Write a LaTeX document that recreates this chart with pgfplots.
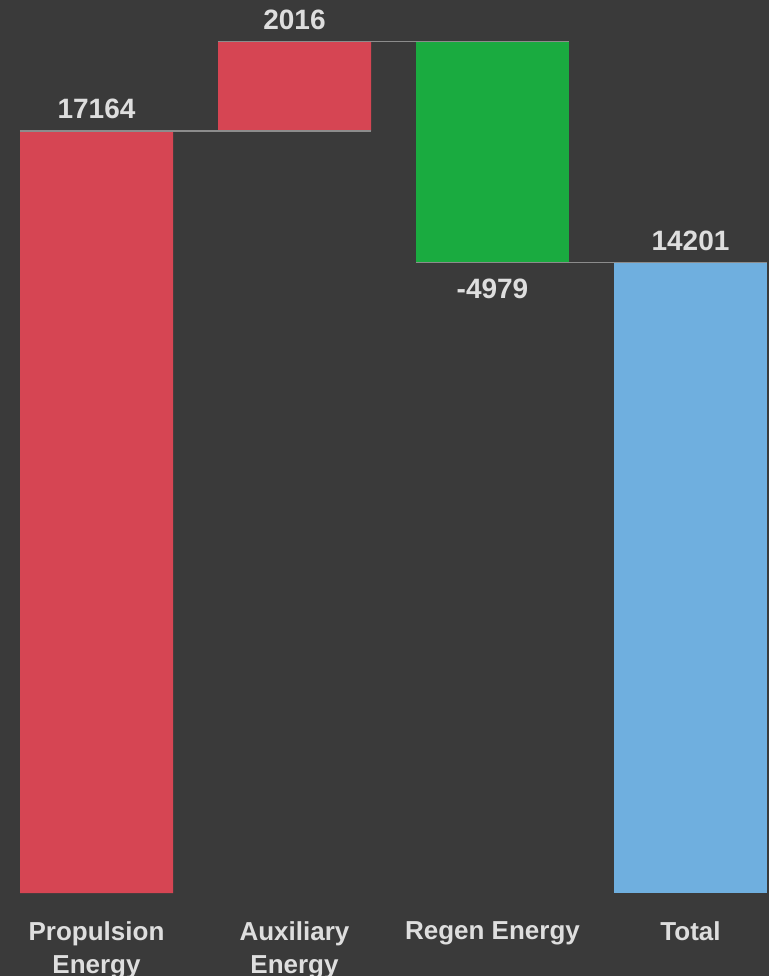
\documentclass[border=0pt]{standalone}
\usepackage{fontspec}
\setmainfont{Liberation Sans}
\usepackage{pgfplots}
\pgfplotsset{compat=1.18}
\definecolor{bgc}{HTML}{3A3A3A}
\definecolor{redc}{HTML}{D64553}
\definecolor{greenc}{HTML}{1AAB40}
\definecolor{bluec}{HTML}{6FAFDF}
\definecolor{txtc}{HTML}{DEDEDE}
\definecolor{linec}{HTML}{8C8C8C}
\begin{document}
\begin{tikzpicture}
\fill[bgc] (0,-41.5pt) rectangle (384.5pt,446.5pt);
\begin{axis}[
  at={(0,0)}, anchor=south west,
  scale only axis, width=384.5pt, height=446.5pt,
  xmin=-0.4874, xmax=3.3965, ymin=0, ymax=20115,
  axis line style={draw=none},
  ytick=\empty,
  xtick={0,1,2,3},
  xticklabels={{Propulsion\\Energy},{Auxiliary\\Energy},{Regen Energy},{Total}},
  major tick length=0pt,
  xticklabel style={font=\bfseries\fontsize{13pt}{16.5pt}\selectfont, text=txtc, align=center, anchor=north, yshift=-14pt, inner sep=0pt},
  ybar stacked, bar width=0.7727,
  clip=false,
]
% invisible base
\addplot[draw=none, fill=none] coordinates {(0,0) (1,17164) (2,14201) (3,0)};
\addplot[draw=none, fill=redc] coordinates {(0,17164) (1,2016) (2,0) (3,0)};
\addplot[draw=none, fill=greenc] coordinates {(0,0) (1,0) (2,4979) (3,0)};
\addplot[draw=none, fill=bluec] coordinates {(0,0) (1,0) (2,0) (3,14201)};
\end{axis}
\begin{axis}[
  at={(0,0)}, anchor=south west,
  scale only axis, width=384.5pt, height=446.5pt,
  xmin=-0.4874, xmax=3.3965, ymin=0, ymax=20115,
  hide axis, clip=false,
]
\addplot[linec, line width=0.9pt] coordinates {(-0.3864,17164) (1.3864,17164)};
\addplot[linec, line width=0.9pt] coordinates {(0.6136,19180) (2.3864,19180)};
\addplot[linec, line width=0.9pt] coordinates {(1.6136,14201) (3.3864,14201)};
\node[font=\bfseries\fontsize{14pt}{16pt}\selectfont, text=txtc, anchor=base, inner sep=0pt] at (axis cs:0,17164) [yshift=6.5pt] {17164};
\node[font=\bfseries\fontsize{14pt}{16pt}\selectfont, text=txtc, anchor=base, inner sep=0pt] at (axis cs:1,19180) [yshift=6pt] {2016};
\node[font=\bfseries\fontsize{14pt}{16pt}\selectfont, text=txtc, anchor=base, inner sep=0pt] at (axis cs:2,14201) [yshift=-17.75pt] {-4979};
\node[font=\bfseries\fontsize{14pt}{16pt}\selectfont, text=txtc, anchor=base, inner sep=0pt] at (axis cs:3,14201) [yshift=6pt] {14201};
\end{axis}
\pgfresetboundingbox
\useasboundingbox (0,-41.5pt) rectangle (384.5pt,446.5pt);
\end{tikzpicture}
\end{document}
